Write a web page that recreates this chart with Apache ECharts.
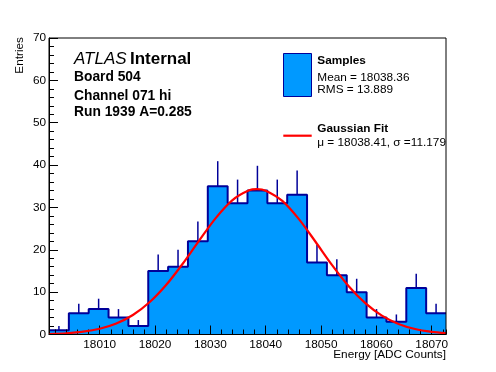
<!DOCTYPE html>
<html>
<head>
<meta charset="utf-8">
<script src="https://cdn.jsdelivr.net/npm/echarts@6/dist/echarts.min.js"></script>
<style>html,body{margin:0;padding:0;background:#fff}#c{width:496px;height:372px}</style>
</head>
<body>
<div id="c"></div>
<script>
// ---- data ----
var histMin = 18000.84;
var histMax = 18072.58;
var counts = [1, 5, 6, 4, 2, 15, 16, 22, 35, 31, 34, 31, 33, 17, 14, 10, 4, 3, 11, 5];
var errors = [1, 2.24, 2.45, 2, 1.41, 3.87, 4, 4.69, 5.92, 5.57, 5.83, 5.57, 5.74, 4.12, 3.74, 3.16, 2, 1.73, 3.32, 2.24];
var fitX = [18000.84, 18004, 18007, 18010, 18013, 18016, 18019, 18022, 18025, 18028, 18031, 18034, 18037, 18038.41, 18040, 18043, 18046, 18049, 18052, 18055, 18058, 18061, 18064, 18067, 18070, 18072.58];
var fitY = [0.12, 0.30, 0.66, 1.36, 2.59, 4.60, 7.60, 11.68, 16.70, 22.23, 27.54, 31.73, 34.03, 34.30, 33.95, 31.53, 27.24, 21.90, 16.38, 11.40, 7.39, 4.45, 2.50, 1.30, 0.63, 0.32];
var yTicks = {min: 0, max: 70, interval: 10};
var xTitle = 'Energy [ADC Counts]';
var yTitle = 'Entries';
var titleLines = ['Board 504', 'Channel 071 hi', 'Run 1939 A=0.285'];
var legendSamples = ['Samples', 'Mean = 18038.36', 'RMS = 13.889'];
var legendFit = ['Gaussian Fit', 'μ = 18038.41, σ =11.179'];

// ---- build library structures ----
var nBins = counts.length;
var bw = (histMax - histMin) / nBins;
var stepData = [];
var errData = [];
for (var i = 0; i < nBins; i++) {
  stepData.push([histMin + i * bw, counts[i]]);
  errData.push([histMin + (i + 0.5) * bw, counts[i], errors[i]]);
}
stepData.push([histMax, counts[nBins - 1]]);
var fitData = fitX.map(function (x, i) { return [x, fitY[i]]; });

var FONT = "'Liberation Sans', Arial, Helvetica, sans-serif";
var chart = echarts.init(document.getElementById('c'), null, {renderer: 'canvas'});

function txt(x, y, text, size, weight, extra) {
  var st = {text: text, fontFamily: FONT, fontSize: size, fontWeight: weight || 'normal', fill: '#000', align: 'left', verticalAlign: 'middle'};
  return Object.assign({type: 'text', x: x, y: y, z: 20, style: st}, extra || {});
}
function plain(v) { return String(Math.round(v)); }

var option = {
  animation: false,
  backgroundColor: '#fff',
  grid: {left: 49, right: 50, top: 38, bottom: 37.5, containLabel: false, outerBoundsMode: 'none',
         show: true, borderColor: '#000', borderWidth: 1, z: 10, backgroundColor: 'transparent'},
  xAxis: [{
    type: 'value', position: 'bottom', min: histMin, max: histMax, splitNumber: 7, minInterval: 10, maxInterval: 10, z: 6,
    axisLine: {show: true, lineStyle: {color: '#000', width: 1}},
    axisTick: {show: true, inside: true, length: 9, lineStyle: {color: '#000', width: 1}},
    axisLabel: {show: true, margin: 4, color: '#000', fontFamily: FONT, fontSize: 11.8, showMinLabel: false, showMaxLabel: false, formatter: plain},
    splitLine: {show: false}
  }, {
    type: 'value', position: 'bottom', min: histMin, max: histMax, splitNumber: 36, minInterval: 2, maxInterval: 2, z: 6,
    axisLine: {show: false},
    axisTick: {show: true, inside: true, length: 5, lineStyle: {color: '#000', width: 1}},
    axisLabel: {show: false},
    splitLine: {show: false}
  }],
  yAxis: [{
    type: 'value', min: yTicks.min, max: yTicks.max, interval: yTicks.interval, z: 6,
    axisLine: {show: true, lineStyle: {color: '#000', width: 1}},
    axisTick: {show: true, inside: true, length: 9, lineStyle: {color: '#000', width: 1}},
    minorTick: {show: true, splitNumber: 5, length: 5, lineStyle: {color: '#000', width: 1}},
    axisLabel: {show: true, margin: 3, color: '#000', fontFamily: FONT, fontSize: 11.8, formatter: plain},
    splitLine: {show: false}
  }],
  series: [{
    name: 'Samples', type: 'line', xAxisIndex: 0, step: 'end', data: stepData,
    showSymbol: false, symbol: 'none', z: 2,
    lineStyle: {color: '#000099', width: 2},
    areaStyle: {color: '#0099ff', opacity: 1}
  }, {
    name: 'Errors', type: 'custom', xAxisIndex: 0, data: errData, z: 3,
    renderItem: function (params, api) {
      var p1 = api.coord([api.value(0), api.value(1)]);
      var p2 = api.coord([api.value(0), api.value(1) + api.value(2)]);
      return {type: 'line', shape: {x1: p1[0], y1: p1[1], x2: p2[0], y2: p2[1]}, style: {stroke: '#000099', lineWidth: 1.5}};
    }
  }, {
    name: 'Gaussian Fit', type: 'line', xAxisIndex: 0, data: fitData, smooth: 0.3,
    showSymbol: false, symbol: 'none', z: 7,
    lineStyle: {color: '#ff0000', width: 2.2}
  }],
  graphic: [
    {type: 'text', x: 74, y: 59, z: 20, style: {
      text: '{i|ATLAS} {b|Internal}', fill: '#000', verticalAlign: 'middle', align: 'left',
      rich: {i: {fontFamily: FONT, fontSize: 17, fontStyle: 'italic', fontWeight: 'normal'}, b: {fontFamily: FONT, fontSize: 17, fontWeight: 'bold'}}
    }},
    txt(74, 77, titleLines[0], 13.8, 'bold'),
    txt(74, 96, titleLines[1], 13.8, 'bold'),
    txt(74, 112.5, titleLines[2], 13.8, 'bold'),
    {type: 'rect', z: 20, shape: {x: 283.5, y: 53.5, width: 28, height: 43}, style: {fill: '#0099ff', stroke: '#000099', lineWidth: 1}},
    txt(317.3, 61, legendSamples[0], 11.8, 'bold'),
    txt(317.3, 77.3, legendSamples[1], 11.8),
    txt(317.3, 90, legendSamples[2], 11.8),
    {type: 'line', z: 20, shape: {x1: 283.3, y1: 135.7, x2: 311.7, y2: 135.7}, style: {stroke: '#ff0000', lineWidth: 2.2}},
    txt(317.3, 129, legendFit[0], 11.8, 'bold'),
    txt(317.3, 142.7, legendFit[1], 11.8),
    txt(446, 355, xTitle, 11.8, 'normal', {style: {text: xTitle, fontFamily: FONT, fontSize: 11.8, fill: '#000', align: 'right', verticalAlign: 'middle'}}),
    {type: 'text', x: 20, y: 37, rotation: Math.PI / 2, z: 20, style: {text: yTitle, fontFamily: FONT, fontSize: 11.8, fill: '#000', align: 'right', verticalAlign: 'middle'}}
  ]
};
chart.setOption(option);
</script>
</body>
</html>
